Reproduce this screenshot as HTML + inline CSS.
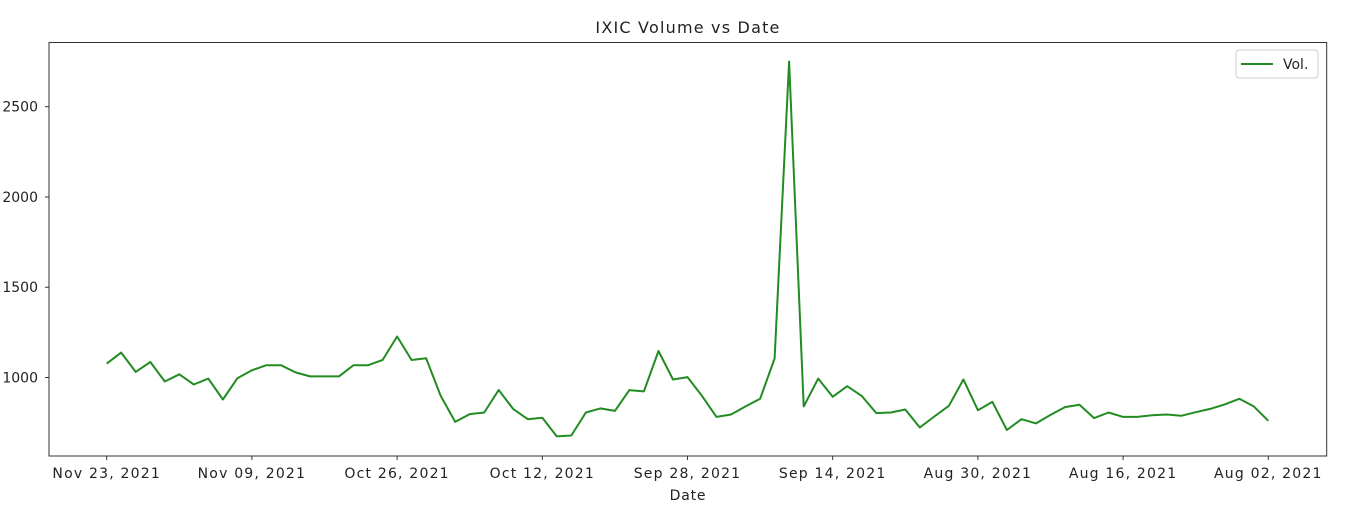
<!DOCTYPE html>
<html><head><meta charset="utf-8"><style>
body{margin:0;background:#fff;}
svg text{font-family:"DejaVu Sans","Liberation Sans",sans-serif;fill:#222;}
</style></head><body>
<svg id="chart" width="1347" height="508" xmlns="http://www.w3.org/2000/svg">
<text x="688" y="33" text-anchor="middle" font-size="16" letter-spacing="1.2">IXIC Volume vs Date</text>
<rect x="49" y="42.5" width="1277.7" height="413.5" fill="none" stroke="#333" stroke-width="1"/>
<g id="yaxis"></g>
<g id="xaxis"></g>
<g id="series"></g>
<text x="688" y="500" text-anchor="middle" font-size="14" letter-spacing="0.8">Date</text>
<g>
<rect x="1236" y="50" width="82" height="28" rx="3" fill="#fff" stroke="#ccc"/>
<line x1="1241" y1="64" x2="1273" y2="64" stroke="#228b22" stroke-width="2"/>
<text x="1283" y="69" font-size="14">Vol.</text>
</g>
</svg>
<script>
const vols=[1077,1138,1031,1086,978,1018,961,994,878,996,1040,1068,1068,1028,1006,1006,1006,1068,1068,1097,1227,1097,1107,898,754,797,806,931,825,769,777,674,679,806,829,815,930,923,1147,989,1002,898,782,795,840,882,1105,2750,840,994,893,952,898,803,806,823,723,784,843,989,819,865,709,769,746,793,836,849,775,806,782,782,791,795,788,808,826,851,882,840,760];
const tickIdx=[0,10,20,30,40,50,60,70,80];
const tickLabels=["Nov 23, 2021","Nov 09, 2021","Oct 26, 2021","Oct 12, 2021","Sep 28, 2021","Sep 14, 2021","Aug 30, 2021","Aug 16, 2021","Aug 02, 2021"];
const yTicks=[1000,1500,2000,2500];
const NS="http://www.w3.org/2000/svg";
function X(i){return 106.7+i*(1268.3-106.7)/(vols.length-1);}
function Y(v){return 377.5-(v-1000)*(270.8/1500);}
const ya=document.getElementById('yaxis'),xa=document.getElementById('xaxis'),se=document.getElementById('series');
yTicks.forEach(v=>{
 const l=document.createElementNS(NS,'line');
 
 
 l.setAttribute('x1',45);l.setAttribute('x2',49);l.setAttribute('y1',Y(v));l.setAttribute('y2',Y(v));l.setAttribute('stroke','#333');
 ya.appendChild(l);
 const t=document.createElementNS(NS,'text');
 
 
 t.setAttribute('x',38);t.setAttribute('y',Y(v)+5);t.setAttribute('text-anchor','end');t.setAttribute('font-size','14');
 t.textContent=v;ya.appendChild(t);
});
tickIdx.forEach((i,k)=>{
 const l=document.createElementNS(NS,'line');
 
 
 l.setAttribute('x1',X(i));l.setAttribute('x2',X(i));l.setAttribute('y1',456);l.setAttribute('y2',460);l.setAttribute('stroke','#333');
 xa.appendChild(l);
 const t=document.createElementNS(NS,'text');
 
 
 t.setAttribute('x',X(i));t.setAttribute('y',478);t.setAttribute('text-anchor','middle');t.setAttribute('font-size','14');t.setAttribute('letter-spacing','1.2');
 t.textContent=tickLabels[k];xa.appendChild(t);
});
const p=document.createElementNS(NS,'polyline');


p.setAttribute('points',vols.map((v,i)=>X(i).toFixed(1)+','+Y(v).toFixed(1)).join(' '));
p.setAttribute('fill','none');p.setAttribute('stroke','#228b22');p.setAttribute('stroke-width','2');p.setAttribute('stroke-linejoin','round');
se.appendChild(p);
</script>
</body></html>
